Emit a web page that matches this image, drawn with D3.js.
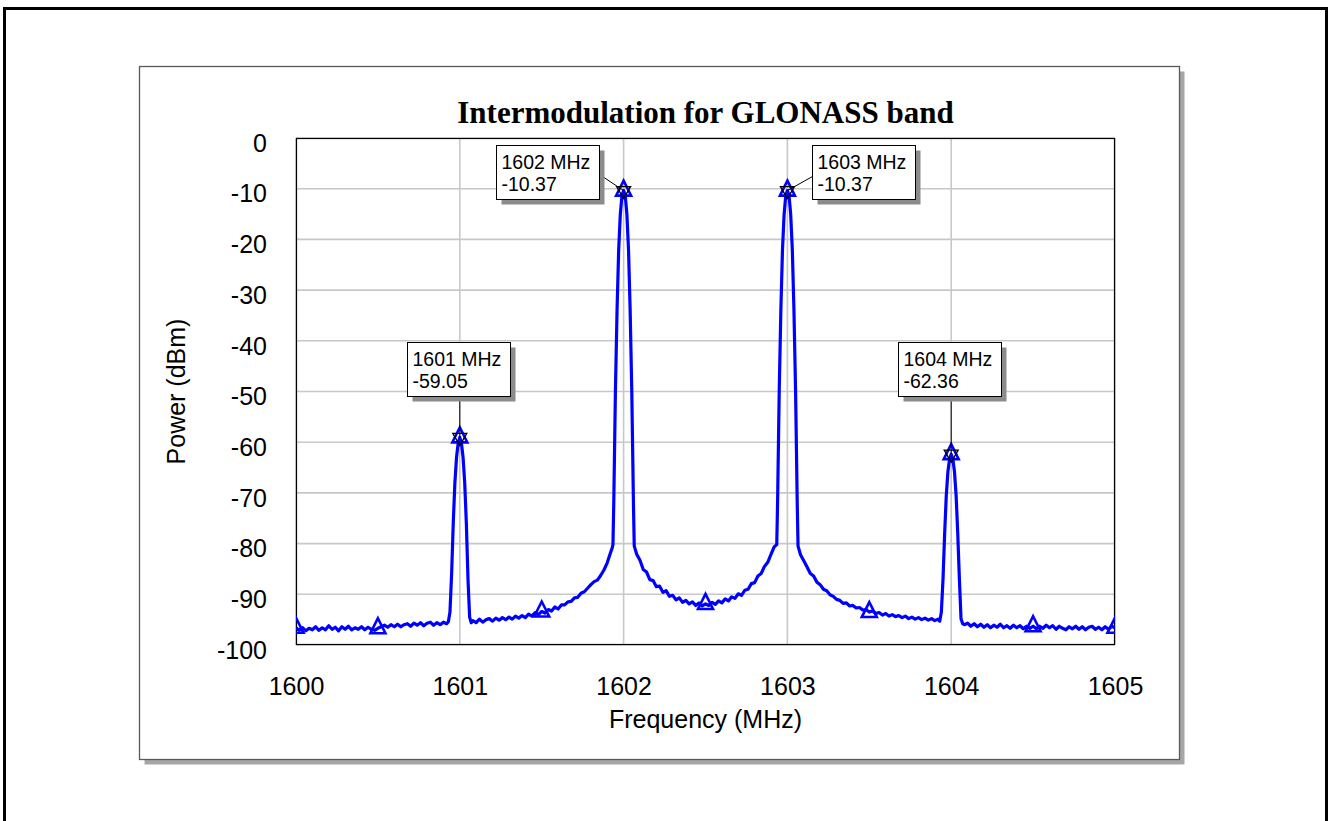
<!DOCTYPE html>
<html>
<head>
<meta charset="utf-8">
<title>Intermodulation for GLONASS band</title>
<script src="https://cdn.jsdelivr.net/npm/d3@7"></script>
<style>
  html, body { margin: 0; padding: 0; background: #ffffff; }
  svg { display: block; }
  .sans { font-family: Arial, "Liberation Sans", sans-serif; }
</style>
</head>
<body>
<svg id="chart" width="1331" height="821"></svg>
<script>
// Spectrum trace (frequency in MHz, power in dBm), split by region
const band1600 = [
  [1600.00,-96.6],[1600.02,-97.1],[1600.04,-96.6],[1600.06,-97.2],[1600.08,-96.7],
  [1600.10,-97.0],[1600.12,-96.4],[1600.14,-97.1],[1600.16,-96.6],[1600.18,-97.0],
  [1600.20,-96.2],[1600.22,-96.9],[1600.24,-96.5],[1600.26,-97.2],[1600.28,-96.4],
  [1600.30,-96.9],[1600.32,-96.3],[1600.34,-97.0],[1600.36,-96.6],[1600.38,-96.9],
  [1600.40,-96.4],[1600.42,-97.0],[1600.44,-96.5],[1600.46,-96.9],[1600.48,-97.1],
  [1600.50,-96.7],[1600.52,-96.4],[1600.54,-96.1],[1600.56,-96.5],[1600.58,-96.0],
  [1600.60,-96.4],[1600.62,-95.9],[1600.64,-96.4],[1600.66,-96.0],[1600.68,-95.8],
  [1600.70,-96.3],[1600.72,-95.7],[1600.74,-96.1],[1600.76,-95.6],[1600.78,-96.2],
  [1600.80,-95.7],[1600.82,-95.5],[1600.84,-96.1],[1600.86,-95.6],[1600.88,-96.0],
  [1600.90,-95.5],[1600.92,-95.8],[1600.93,-95.4]
];
const peak1601 = [
  [1600.94,-93.5],[1600.95,-86.0],[1600.96,-76.0],[1600.97,-68.0],[1600.98,-63.0],
  [1600.99,-60.2],[1601.00,-59.05],[1601.01,-60.2],[1601.02,-63.0],[1601.03,-68.0],
  [1601.04,-76.0],[1601.05,-87.0],[1601.06,-94.5],[1601.07,-95.6]
];
const band1601 = [
  [1601.08,-95.2],[1601.10,-95.6],[1601.12,-94.9],[1601.14,-95.5],[1601.16,-95.0],
  [1601.18,-94.8],[1601.20,-95.3],[1601.22,-94.7],[1601.24,-95.1],[1601.26,-94.6],
  [1601.28,-95.0],[1601.30,-94.5],[1601.32,-94.9],[1601.34,-94.3],[1601.36,-94.7],
  [1601.38,-94.2],[1601.40,-94.6],[1601.42,-93.9],[1601.44,-94.3],[1601.46,-93.6],
  [1601.48,-94.0],[1601.50,-93.4],[1601.52,-93.7],[1601.54,-93.0],[1601.56,-93.3],
  [1601.58,-92.5],[1601.60,-92.9],[1601.62,-92.1],[1601.64,-92.1],[1601.66,-91.5],
  [1601.68,-91.4],[1601.70,-90.7],[1601.72,-90.6],[1601.74,-89.8],[1601.76,-89.5],
  [1601.78,-88.8],[1601.80,-88.1],[1601.82,-87.5],[1601.84,-87.2],[1601.86,-86.3],
  [1601.88,-85.2],[1601.90,-83.8],[1601.92,-81.8],[1601.93,-80.9]
];
const peak1602 = [
  [1601.935,-80.2],[1601.94,-72.0],[1601.95,-50.0],[1601.96,-34.0],[1601.97,-22.0],
  [1601.98,-15.0],[1601.99,-11.3],[1602.00,-10.37],[1602.01,-11.3],[1602.02,-15.0],
  [1602.03,-22.0],[1602.04,-34.0],[1602.05,-50.0],[1602.06,-72.0],[1602.065,-80.5]
];
const band1602 = [
  [1602.08,-82.1],[1602.10,-83.3],[1602.12,-85.1],[1602.14,-85.6],[1602.16,-87.1],
  [1602.18,-87.3],[1602.20,-88.5],[1602.22,-88.4],[1602.24,-89.6],[1602.26,-89.3],
  [1602.28,-90.4],[1602.30,-90.2],[1602.32,-91.1],[1602.34,-90.7],[1602.36,-91.6],
  [1602.38,-91.2],[1602.40,-91.9],[1602.42,-91.5],[1602.44,-92.2],[1602.46,-91.7],
  [1602.48,-92.3],[1602.50,-91.9],[1602.52,-92.2],[1602.54,-91.6],[1602.56,-92.0],
  [1602.58,-91.3],[1602.60,-91.7],[1602.62,-90.9],[1602.64,-91.3],[1602.66,-90.5],
  [1602.68,-90.8],[1602.70,-89.9],[1602.72,-90.2],[1602.74,-89.2],[1602.76,-89.0],
  [1602.78,-87.9],[1602.80,-87.7],[1602.82,-86.4],[1602.84,-85.9],[1602.86,-84.5],
  [1602.88,-83.7],[1602.90,-82.1],[1602.92,-80.6]
];
const peak1603 = [
  [1602.935,-80.2],[1602.94,-72.0],[1602.95,-50.0],[1602.96,-34.0],[1602.97,-22.0],
  [1602.98,-15.0],[1602.99,-11.3],[1603.00,-10.37],[1603.01,-11.3],[1603.02,-15.0],
  [1603.03,-22.0],[1603.04,-34.0],[1603.05,-50.0],[1603.06,-72.0],[1603.065,-80.5]
];
const band1603 = [
  [1603.08,-82.2],[1603.10,-83.4],[1603.12,-84.6],[1603.14,-85.9],[1603.16,-86.4],
  [1603.18,-87.6],[1603.20,-88.1],[1603.22,-89.0],[1603.24,-89.3],[1603.26,-90.1],
  [1603.28,-90.4],[1603.30,-91.0],[1603.32,-91.2],[1603.34,-91.8],[1603.36,-91.7],
  [1603.38,-92.3],[1603.40,-92.2],[1603.42,-92.7],[1603.44,-92.6],[1603.46,-93.1],
  [1603.48,-93.0],[1603.50,-93.5],[1603.52,-93.3],[1603.54,-93.8],[1603.56,-93.6],
  [1603.58,-94.1],[1603.60,-93.8],[1603.62,-94.3],[1603.64,-94.0],[1603.66,-94.4],
  [1603.68,-94.2],[1603.70,-94.6],[1603.72,-94.3],[1603.74,-94.8],[1603.76,-94.5],
  [1603.78,-94.9],[1603.80,-94.6],[1603.82,-95.0],[1603.84,-94.7],[1603.86,-95.1],
  [1603.88,-94.8],[1603.90,-95.2],[1603.92,-94.9],[1603.93,-95.3]
];
const peak1604 = [
  [1603.94,-93.5],[1603.95,-87.0],[1603.96,-78.0],[1603.97,-70.5],[1603.98,-65.8],
  [1603.99,-63.3],[1604.00,-62.36],[1604.01,-63.3],[1604.02,-65.8],[1604.03,-70.5],
  [1604.04,-78.0],[1604.05,-87.0],[1604.06,-94.8],[1604.07,-95.8]
];
const band1604 = [
  [1604.08,-96.0],[1604.10,-95.7],[1604.12,-96.3],[1604.14,-95.8],[1604.16,-96.4],
  [1604.18,-95.9],[1604.20,-96.5],[1604.22,-96.0],[1604.24,-96.6],[1604.26,-96.1],
  [1604.28,-96.5],[1604.30,-95.9],[1604.32,-96.6],[1604.34,-96.2],[1604.36,-96.7],
  [1604.38,-96.1],[1604.40,-96.6],[1604.42,-96.2],[1604.44,-96.8],[1604.46,-96.3],
  [1604.48,-96.7],[1604.50,-96.3],[1604.52,-96.8],[1604.54,-96.3],[1604.56,-96.7],
  [1604.58,-96.1],[1604.60,-96.6],[1604.62,-96.2],[1604.64,-96.9],[1604.66,-96.3],
  [1604.68,-96.7],[1604.70,-97.0],[1604.72,-96.4],[1604.74,-96.8],[1604.76,-96.3],
  [1604.78,-96.9],[1604.80,-96.4],[1604.82,-97.0],[1604.84,-96.5],[1604.86,-96.3],
  [1604.88,-96.9],[1604.90,-96.5],[1604.92,-97.0],[1604.94,-96.4],[1604.96,-96.9],
  [1604.98,-96.3],[1605.00,-96.6]
];

// Symbol positions along the trace and the annotated tones
const markerFreqs = [1600, 1600.5, 1601, 1601.5, 1602, 1602.5, 1603, 1603.5, 1604, 1604.5, 1605];
const toneFreqs = [1601, 1602, 1603, 1604];

// Axis ticks
const xTicks = [1600, 1601, 1602, 1603, 1604, 1605];
const yTicks = [0, -10, -20, -30, -40, -50, -60, -70, -80, -90, -100];

const chartTitle = "Intermodulation for GLONASS band";
const xTitle = "Frequency (MHz)";
const yTitle = "Power (dBm)";

const trace = [].concat(band1600, peak1601, band1601, peak1602, band1602,
                        peak1603, band1603, peak1604, band1604);
const valueAt = f => trace.find(d => Math.abs(d[0] - f) < 1e-9)[1];

// plain hyphen-minus number formatting
const fmtInt = d => String(d);
const fmt2 = d => d.toFixed(2);

// ---------- layout ----------
const svg = d3.select("#chart");
const plot = { left: 296, right: 1115, top: 138, bottom: 645 };
const panel = { x: 139.5, y: 66.5, w: 1040, h: 693 };

const x = d3.scaleLinear().domain([1600, 1605]).range([plot.left, plot.right]);
const y = d3.scaleLinear().domain([-100, 0]).range([plot.bottom, plot.top]);

// outer frame
svg.append("rect")
  .attr("x", 4.5).attr("y", 8.5).attr("width", 1322).attr("height", 900)
  .attr("fill", "#fff").attr("stroke", "#000").attr("stroke-width", 3);

// chart panel with drop shadow
svg.append("rect")
  .attr("x", panel.x + 5).attr("y", panel.y + 5).attr("width", panel.w).attr("height", panel.h)
  .attr("fill", "#a6a6a6");
svg.append("rect")
  .attr("x", panel.x).attr("y", panel.y).attr("width", panel.w).attr("height", panel.h)
  .attr("fill", "#fff").attr("stroke", "#5a5a5a").attr("stroke-width", 1.3);

// title
svg.append("text")
  .attr("x", (plot.left + plot.right) / 2).attr("y", 123)
  .attr("text-anchor", "middle")
  .style("font-family", "'Times New Roman', 'Liberation Serif', serif")
  .style("font-weight", "bold").style("font-size", "31px")
  .text(chartTitle);

// grid
const grid = svg.append("g").attr("stroke", "#c8c8c8").attr("stroke-width", 1.6);
grid.selectAll("line.h").data(yTicks).join("line").attr("class", "h")
  .attr("x1", plot.left).attr("x2", plot.right)
  .attr("y1", d => y(d)).attr("y2", d => y(d));
grid.selectAll("line.v").data(xTicks).join("line").attr("class", "v")
  .attr("y1", plot.top).attr("y2", plot.bottom)
  .attr("x1", d => x(d)).attr("x2", d => x(d));

// axes (labels only)
const yAxis = svg.append("g").attr("class", "sans")
  .attr("transform", `translate(${plot.left},0)`)
  .call(d3.axisLeft(y).tickValues(yTicks).tickSize(0).tickPadding(29).tickFormat(fmtInt));
const xAxis = svg.append("g").attr("class", "sans")
  .attr("transform", `translate(0,${plot.bottom})`)
  .call(d3.axisBottom(x).tickValues(xTicks).tickSize(0).tickPadding(32).tickFormat(fmtInt));
[yAxis, xAxis].forEach(g => {
  g.select(".domain").remove();
  g.selectAll("text").attr("fill", "#000")
    .style("font-family", "Arial, 'Liberation Sans', sans-serif").style("font-size", "25px");
});
yAxis.selectAll("text").attr("dy", "0.53em");

// axis titles
svg.append("text").attr("class", "sans")
  .attr("x", (plot.left + plot.right) / 2).attr("y", 728)
  .attr("text-anchor", "middle").style("font-size", "25px")
  .text(xTitle);
svg.append("text").attr("class", "sans")
  .attr("transform", `translate(185,${(plot.top + plot.bottom) / 2}) rotate(-90)`)
  .attr("text-anchor", "middle").style("font-size", "25px")
  .text(yTitle);

// plot border
svg.append("rect")
  .attr("x", plot.left + 0.5).attr("y", plot.top + 0.5)
  .attr("width", plot.right - plot.left - 1).attr("height", plot.bottom - plot.top - 1)
  .attr("fill", "none").attr("stroke", "#000").attr("stroke-width", 1.2);

// clipping to the plot area
svg.append("defs").append("clipPath").attr("id", "plotClip")
  .append("rect").attr("x", plot.left).attr("y", plot.top)
  .attr("width", plot.right - plot.left).attr("height", plot.bottom - plot.top);
const inner = svg.append("g").attr("clip-path", "url(#plotClip)");

// trace
inner.append("path")
  .datum(trace)
  .attr("fill", "none").attr("stroke", "#0000ff").attr("stroke-width", 3.2)
  .attr("stroke-linejoin", "round")
  .attr("d", d3.line().x(d => x(d[0])).y(d => y(d[1])));

// triangle symbols, centred on their centroid
const tri = (w, h, up) => {
  const a = up ? -2 * h / 3 : 2 * h / 3, b = up ? h / 3 : -h / 3;
  return `M0,${a}L${w / 2},${b}L${-w / 2},${b}Z`;
};
inner.selectAll("path.sym").data(markerFreqs).join("path").attr("class", "sym")
  .attr("transform", f => `translate(${x(f)},${y(valueAt(f))})`)
  .attr("d", tri(15, 15, true))
  .attr("fill", "none").attr("stroke", "#0000ff").attr("stroke-width", 2.6)
  .attr("stroke-linejoin", "miter");

// annotation boxes
const boxW = 103, boxH = 54;
const boxPlacement = {
  1601: { dx: -53, dy: -95, anchor: "bottom" },
  1602: { dx: -128, dy: -46, anchor: "right" },
  1603: { dx: 25, dy: -46, anchor: "left" },
  1604: { dx: -53, dy: -112, anchor: "bottom" }
};
const notes = svg.append("g").attr("class", "sans");
toneFreqs.forEach(f => {
  const v = valueAt(f);
  const px = x(f), py = y(v);
  const p = boxPlacement[f];
  const bx = Math.round(px + p.dx) + 0.5, by = Math.round(py + p.dy) + 0.5;
  // leader line
  let lx = px, ly = by + boxH;
  if (p.anchor === "right") { lx = bx + boxW; ly = by + 29; }
  if (p.anchor === "left") { lx = bx; ly = by + 31; }
  notes.append("line")
    .attr("x1", lx).attr("y1", ly).attr("x2", px).attr("y2", py)
    .attr("stroke", "#000").attr("stroke-width", 1);
  // marker flag
  notes.append("path")
    .attr("transform", `translate(${px},${py})`)
    .attr("d", tri(14, 12, false))
    .attr("fill", "none").attr("stroke", "#000").attr("stroke-width", 1.3);
  // box with shadow
  notes.append("rect").attr("x", bx + 5).attr("y", by + 5)
    .attr("width", boxW).attr("height", boxH).attr("fill", "#8c8c8c");
  notes.append("rect").attr("x", bx).attr("y", by)
    .attr("width", boxW).attr("height", boxH)
    .attr("fill", "#fff").attr("stroke", "#000").attr("stroke-width", 1);
  const t = notes.append("text").attr("x", bx + 5).attr("y", by + 23)
    .style("font-size", "19.5px").attr("fill", "#000");
  t.append("tspan").attr("x", bx + 5).text(`${f} MHz`);
  t.append("tspan").attr("x", bx + 5).attr("y", by + 45).text(fmt2(v));
});
</script>
</body>
</html>
